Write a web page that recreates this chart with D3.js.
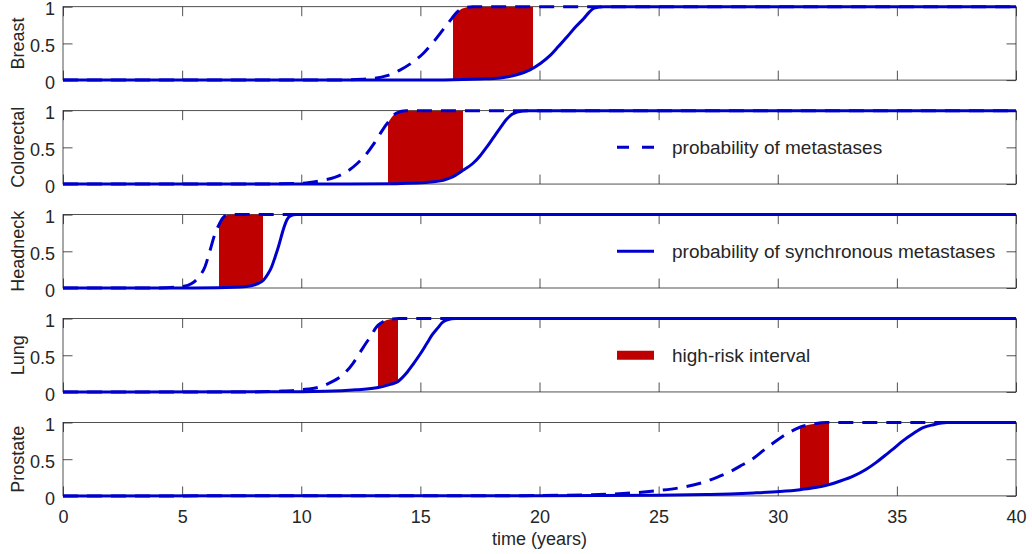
<!DOCTYPE html>
<html><head><meta charset="utf-8">
<script src="https://cdn.jsdelivr.net/npm/d3@7"></script>
<style>body{margin:0;background:#fff}svg{display:block}text{font-family:"Liberation Sans",Arial,sans-serif}</style>
</head><body><svg id="c" width="1032" height="554"></svg>
<script>
const cancers = ["Breast","Colorectal","Headneck","Lung","Prostate"];
const xTicks = [0,5,10,15,20,25,30,35,40];
const yTicks = [0,0.5,1];
const yTickLabels = ["0","0.5","1"];
const legendLabels = ["probability of metastases","probability of synchronous metastases","high-risk interval"];

// [time, probability]
const breastMet = [[0,0],[11,0],[12,0.005],[13,0.022],[13.6,0.06],[14.14,0.136],[14.7,0.25],[15.14,0.37],[15.5,0.5],[15.84,0.64],[16.1,0.75],[16.33,0.845],[16.55,0.93],[16.8,0.98],[17.2,1],[40,1]];
const breastSync = [[0,0],[14,0],[16,0.003],[17.5,0.015],[18.36,0.03],[19,0.07],[19.6,0.14],[20.05,0.23],[20.46,0.34],[20.8,0.46],[21.16,0.59],[21.5,0.72],[21.86,0.84],[22.1,0.93],[22.3,0.98],[22.7,1],[40,1]];
const colorectalMet = [[0,0],[8,0],[10,0.01],[10.8,0.045],[11.4,0.09],[11.92,0.17],[12.35,0.28],[12.76,0.42],[13.05,0.55],[13.32,0.69],[13.5,0.78],[13.67,0.85],[13.85,0.93],[14.02,0.97],[14.4,1],[40,1]];
const colorectalSync = [[0,0],[12,0],[14,0.005],[15.56,0.03],[16.3,0.09],[16.8,0.19],[17.2,0.28],[17.52,0.39],[17.8,0.51],[18.08,0.64],[18.36,0.77],[18.64,0.89],[18.85,0.95],[19.06,0.98],[19.5,1],[40,1]];
const headneckMet = [[0,0],[4,0],[5,0.02],[5.4,0.06],[5.7,0.15],[5.96,0.29],[6.17,0.51],[6.38,0.74],[6.56,0.87],[6.7,0.95],[6.85,0.99],[7.1,1],[40,1]];
const headneckSync = [[0,0],[5,0],[6.5,0.003],[7.71,0.02],[8.1,0.05],[8.41,0.105],[8.6,0.19],[8.76,0.29],[8.9,0.42],[9.04,0.56],[9.16,0.7],[9.28,0.83],[9.4,0.93],[9.53,0.98],[9.8,1],[40,1]];
const lungMet = [[0,0],[8,0],[9,0.01],[10,0.03],[10.79,0.07],[11.3,0.14],[11.77,0.24],[12.15,0.38],[12.47,0.54],[12.75,0.68],[12.96,0.78],[13.1,0.86],[13.23,0.91],[13.45,0.96],[13.73,0.99],[14.1,1],[40,1]];
const lungSync = [[0,0],[9,0.002],[11,0.01],[12.3,0.03],[13.23,0.06],[13.7,0.1],[14.05,0.14],[14.4,0.25],[14.7,0.38],[15,0.52],[15.27,0.66],[15.5,0.78],[15.75,0.88],[15.9,0.94],[16.1,0.98],[16.5,1],[40,1]];
const prostateMet = [[0,0],[18,0.002],[20,0.005],[22,0.015],[23,0.025],[24.1,0.045],[25.06,0.075],[26.04,0.12],[27.02,0.2],[27.5,0.26],[28,0.33],[28.5,0.42],[28.97,0.51],[29.4,0.62],[29.81,0.72],[30.2,0.81],[30.51,0.87],[30.93,0.935],[31.5,0.98],[32.05,1],[40,1]];
const prostateSync = [[0,0],[20,0.002],[25,0.008],[27,0.018],[28,0.027],[29,0.04],[30.09,0.06],[30.93,0.085],[31.5,0.11],[32.12,0.15],[32.6,0.2],[33.17,0.27],[33.7,0.36],[34.15,0.46],[34.5,0.55],[34.85,0.64],[35.25,0.75],[35.69,0.85],[36.1,0.93],[36.53,0.97],[37.1,1],[40,1]];
const metSeries = [breastMet,colorectalMet,headneckMet,lungMet,prostateMet];
const syncSeries = [breastSync,colorectalSync,headneckSync,lungSync,prostateSync];
const riskIntervals = [[16.37,19.73],[13.64,16.79],[6.55,8.39],[13.22,14.06],[30.93,32.15]];

const BLUE = "#0000cc", RED = "#bf0000", AX = "#262626";
const svg = d3.select("#c");
const left = 63, right = 1016, top0 = 6.7, step = 103.95, ph = 73.4, tickLen = 9.5;
const FS = 18;
const x = d3.scaleLinear().domain([0,40]).range([left,right]);

cancers.forEach((name,i) => {
  const top = top0 + i*step;
  const y = d3.scaleLinear().domain([0,1]).range([top+ph, top]);
  const g = svg.append("g");

  const xb = g.append("g").attr("transform",`translate(0,${top+ph})`)
    .call(d3.axisBottom(x).tickValues(xTicks).tickSize(-tickLen).tickPadding(14)
      .tickFormat(i===cancers.length-1 ? d3.format("d") : ""));
  const xt = g.append("g").attr("transform",`translate(0,${top})`)
    .call(d3.axisTop(x).tickValues(xTicks).tickSize(-tickLen).tickFormat(""));
  const yl = g.append("g").attr("transform",`translate(${left},0)`)
    .call(d3.axisLeft(y).tickValues(yTicks).tickSize(-tickLen).tickPadding(8).tickFormat((d,k)=>yTickLabels[k]));
  const yr = g.append("g").attr("transform",`translate(${right},0)`)
    .call(d3.axisRight(y).tickValues(yTicks).tickSize(-tickLen).tickFormat(""));
  [xb,xt,yl,yr].forEach(a => {
    a.select(".domain").remove();
    a.selectAll(".tick line").attr("stroke",AX).attr("stroke-width",0.8);
    a.selectAll(".tick text").attr("font-size",FS).attr("fill",AX).attr("font-family","Liberation Sans, Arial, sans-serif");
  });
  yl.selectAll(".tick text").attr("dy","0.45em");
  g.append("rect").attr("x",left).attr("y",top).attr("width",right-left).attr("height",ph)
    .attr("fill","none").attr("stroke",AX).attr("stroke-width",0.8);

  g.append("text").attr("transform",`translate(23.5,${top+ph/2}) rotate(-90)`)
    .attr("text-anchor","middle").attr("font-size",FS).attr("fill",AX).text(name);

  const line = d3.line().x(d=>x(d[0])).y(d=>y(d[1])).curve(d3.curveMonotoneX);
  const area = d3.area().x(d=>x(d[0])).y0(y(1)-2).y1(d=>y(d[1])).curve(d3.curveMonotoneX);
  const under = d3.area().x(d=>x(d[0])).y0(y(0)).y1(d=>y(d[1])).curve(d3.curveMonotoneX);
  const cid1 = "ci"+i, cid2 = "ca"+i;
  const defs = svg.append("defs");
  defs.append("clipPath").attr("id",cid1).append("rect")
    .attr("x",x(riskIntervals[i][0])).attr("width",x(riskIntervals[i][1])-x(riskIntervals[i][0]))
    .attr("y",top-5).attr("height",ph+10);
  defs.append("clipPath").attr("id",cid2).append("path").attr("d",area(syncSeries[i]));
  g.append("g").attr("clip-path",`url(#${cid1})`)
    .append("g").attr("clip-path",`url(#${cid2})`)
    .append("path").attr("d",under(metSeries[i])).attr("fill",RED);

  g.append("path").attr("d",line(metSeries[i])).attr("fill","none").attr("stroke",BLUE)
    .attr("stroke-width",3).attr("stroke-dasharray","15,9");
  g.append("path").attr("d",line(syncSeries[i])).attr("fill","none").attr("stroke",BLUE)
    .attr("stroke-width",3);
});

svg.append("text").attr("x",(left+right)/2).attr("y",545).attr("text-anchor","middle")
  .attr("font-size",FS).attr("fill",AX).text("time (years)");

legendLabels.forEach((lab,k) => {
  const cy = top0 + (k+1)*step + ph/2;
  const lg = svg.append("g");
  if (k===2) {
    lg.append("rect").attr("x",617).attr("y",cy-4.5).attr("width",37).attr("height",9).attr("fill",RED);
  } else {
    lg.append("line").attr("x1",617).attr("x2",654).attr("y1",cy).attr("y2",cy)
      .attr("stroke",BLUE).attr("stroke-width",3).attr("stroke-dasharray",k===0?"12,13":null);
  }
  lg.append("text").attr("x",672).attr("y",cy).attr("dy","0.36em").attr("font-size",19).attr("fill",AX).text(lab);
});
</script></body></html>
